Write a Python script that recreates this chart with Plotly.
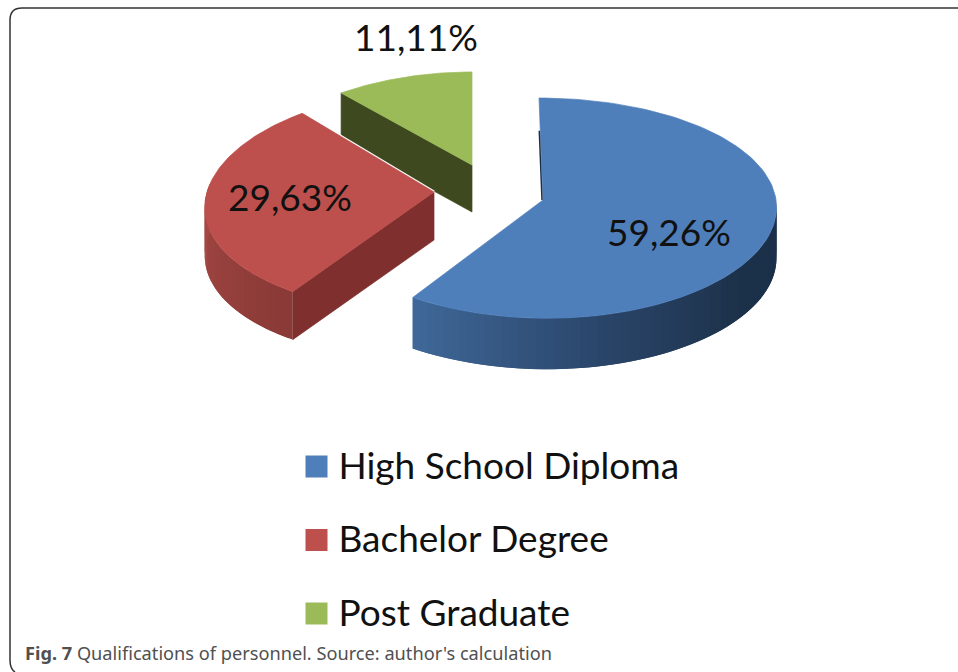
import plotly.graph_objects as go
import numpy as np

categories = ["High School Diploma", "Bachelor Degree", "Post Graduate"]
values = [59.26, 29.63, 11.11]
labels = ["59,26%", "29,63%", "11,11%"]
caption = "<b>Fig. 7</b> Qualifications of personnel. Source: author's calculation"

top_colors = ["#4f7fbb", "#bd4f4c", "#9bbb59"]
# per-slice projection: exploded centre, radii and perspective of the 3-D view
geom = [
    dict(cx=543, cy=200, R=233, Ry=109.5, kx=.05, ky=.074, skew=-4, depth=51),
    dict(cx=434, cy=192, R=227, Ry=110, kx=.14, ky=.093, skew=0, depth=48),
    dict(cx=472, cy=165, R=228, Ry=97.6, kx=.156, ky=.049, skew=0, depth=47),
]
wall_stops = [
    [(90, "#1b2f4b"), (125, "#1c3149"), (165, "#2a4468"), (213.4, "#40699a")],
    [(213.4, "#8a3a37"), (250, "#9c4440"), (275, "#a94b47")],
    [],
]
face_colors = [None, "#7f302e", "#3f4920"]
label_pos = [(669, 234), (290, 199), (416, 39)]
legend_y = [466.5, 540, 613.5]

W, H = 958, 672


def proj(g, deg, t=1.0):
    a = np.radians(deg)
    c, s = np.cos(a), np.sin(a)
    x = g["cx"] + t * g["R"] * s / (1 + g["kx"] * c) + t * g["skew"] * c
    y = g["cy"] - t * g["Ry"] * c / (1 + g["ky"] * c)
    return x, y


def hex2rgb(h):
    return np.array([int(h[i:i + 2], 16) for i in (1, 3, 5)], float)


def stop_color(stops, deg):
    ds = [s[0] for s in stops]
    cs = np.array([hex2rgb(s[1]) for s in stops])
    rgb = [np.interp(deg, ds, cs[:, j]) for j in range(3)]
    return "rgb(%d,%d,%d)" % tuple(rgb)


def poly(xs, ys, color, lw=0.7):
    return go.Scatter(
        x=list(xs), y=list(ys), mode="lines", fill="toself", fillcolor=color,
        line=dict(color=color, width=lw), hoverinfo="skip", showlegend=False,
    )


fig = go.Figure()

# slice angles come from the values
total = sum(values)
starts = np.cumsum([0] + values[:-1]) / total * 360
ends = np.cumsum(values) / total * 360

for i in [2, 1, 0]:
    g, a0, a1 = geom[i], starts[i], ends[i]
    d = g["depth"]
    # radial side face
    if face_colors[i]:
        px, py = proj(g, a0)
        ax, ay = proj(g, a0, 0)
        fig.add_trace(poly([px, ax, ax, px, px], [py, ay, ay + d, py + d, py], face_colors[i]))
    # outer curved wall, in overlapping strips so that it shades smoothly
    if wall_stops[i]:
        lo = max(a0, wall_stops[i][0][0])
        hi = min(a1, wall_stops[i][-1][0])
        edges = np.linspace(lo, hi, 61)
        step = edges[1] - edges[0]
        for b0 in edges[:-1]:
            arc = np.linspace(b0, min(b0 + 2 * step, hi), 4)
            xa, ya = proj(g, arc)
            fig.add_trace(poly(np.r_[xa, xa[::-1], xa[0]], np.r_[ya, ya[::-1] + d, ya[0]],
                               stop_color(wall_stops[i], b0 + step / 2), lw=0))
    # thin white gap where the red slice meets the green wall
    if i == 1:
        ex, ey = proj(g, a1)
        ax, ay = proj(g, a0, 0)
        fig.add_trace(go.Scatter(x=[ex, ax], y=[ey, ay], mode="lines",
                                 line=dict(color="white", width=3),
                                 hoverinfo="skip", showlegend=False))
    # top surface
    th = np.linspace(a0, a1, 120)
    xs, ys = proj(g, th)
    ax, ay = proj(g, a0, 0)
    fig.add_trace(poly(np.r_[ax, xs, ax], np.r_[ay, ys, ay], top_colors[i]))

# thin dark sliver along the back edge of the blue slice
g = geom[0]
sx, sy = zip(*[proj(g, 0, t) for t in (0.68, 0.0)])
fig.add_trace(go.Scatter(x=[v - 1 for v in sx], y=sy, mode="lines",
                         line=dict(color="#1c3149", width=1.5),
                         hoverinfo="skip", showlegend=False))

# value labels
fig.add_trace(go.Scatter(
    x=[p[0] for p in label_pos], y=[p[1] + 3 for p in label_pos], text=labels,
    mode="text", textposition="middle center",
    textfont=dict(family="Lato", size=37, color="#111111"),
    hoverinfo="skip", showlegend=False,
))

# legend
fig.add_trace(go.Scatter(
    x=[316.5] * 3, y=legend_y, mode="markers",
    marker=dict(symbol="square", size=22, color=top_colors, line=dict(width=0)),
    hoverinfo="skip", showlegend=False,
))
fig.add_trace(go.Scatter(
    x=[338.5] * 3, y=[v + 3 for v in legend_y], text=categories, mode="text",
    textposition="middle right",
    textfont=dict(family="Lato", size=37, color="#111111"),
    hoverinfo="skip", showlegend=False,
))

fig.add_annotation(
    x=23, y=653, xref="x", yref="y", text=caption, showarrow=False, xanchor="left",
    yanchor="middle", font=dict(family="Noto Sans", size=18.2, color="#505050"),
)

fig.update_layout(
    width=W, height=H, margin=dict(l=0, r=0, t=0, b=0),
    paper_bgcolor="white", plot_bgcolor="white", showlegend=False,
    xaxis=dict(range=[0, W], visible=False, fixedrange=True),
    yaxis=dict(range=[H, 0], visible=False, fixedrange=True),
    shapes=[dict(
        type="path", xref="x", yref="y",
        path="M 958,8 L 22,8 Q 10,8 10,20 L 10,660 Q 10,669 15,672",
        line=dict(color="#333333", width=1.5),
    )],
)

fig.write_html("out.html", post_script="document.body.style.margin='0';document.body.style.overflow='hidden';",
               config=dict(displayModeBar=False))
